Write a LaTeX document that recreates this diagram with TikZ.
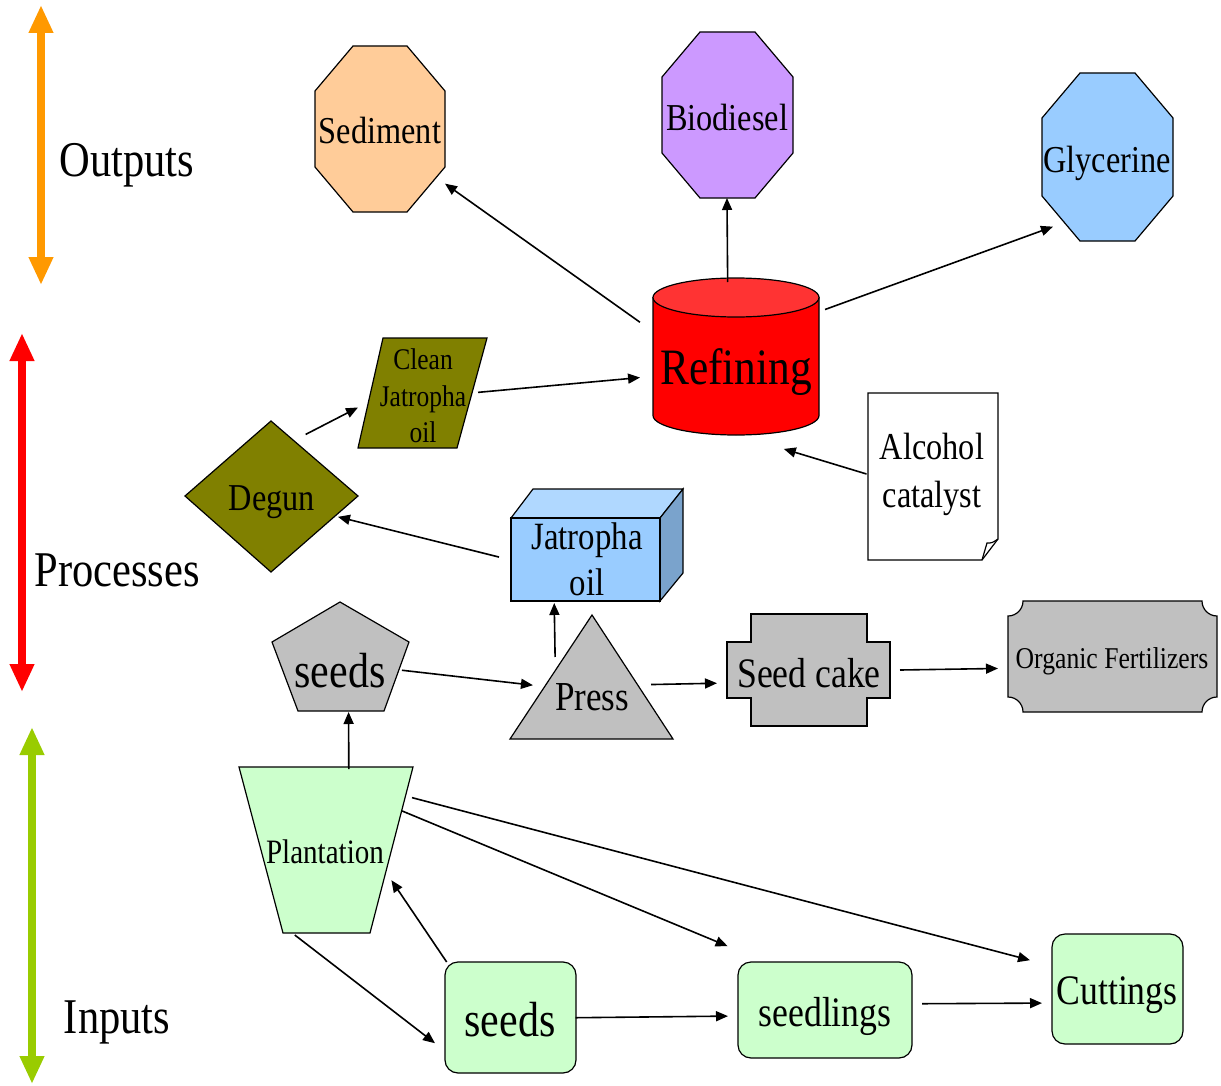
\documentclass[tikz,border=0pt]{standalone}
\usepackage{fontspec}
\setmainfont{Liberation Serif}[FakeStretch=0.85]
\usetikzlibrary{arrows.meta}

\definecolor{outorange}{HTML}{FF9900}
\definecolor{procred}{HTML}{FF0000}
\definecolor{inpgreen}{HTML}{99CC00}
\definecolor{sedicol}{HTML}{FFCC99}
\definecolor{biocol}{HTML}{CC99FF}
\definecolor{lblue}{HTML}{99CCFF}
\definecolor{lbluetop}{HTML}{B0D8FF}
\definecolor{lblueside}{HTML}{7AA3CC}
\definecolor{reftop}{HTML}{FF3333}
\definecolor{olivecol}{HTML}{808000}
\definecolor{greycol}{HTML}{C0C0C0}
\definecolor{lgreen}{HTML}{CCFFCC}

\tikzset{
  shp/.style={draw=black, line width=0.6pt, line join=miter},
  lbl/.style={inner sep=0pt, outer sep=0pt, align=center},
  arr/.style={-{Triangle[length=6pt,width=5pt]}, line width=0.8pt},
  axis/.style={{Triangle[length=14pt,width=11.5pt]}-{Triangle[length=14pt,width=11.5pt]}, line width=4pt},
}

\begin{document}
\begin{tikzpicture}[x=0.5pt,y=-0.5pt]
		%%%%% START %%%%%
		\useasboundingbox (0,0) rectangle (1221,1086);
		
		% side arrows
		\coordinate (outTop) at (41,5);
		\coordinate (outBot) at (41,285);
		\coordinate (procTop) at (22,333);
		\coordinate (procBot) at (22,692);
		\coordinate (inTop) at (32,727);
		\coordinate (inBot) at (32,1084);
		\draw[axis, draw=outorange, fill=outorange] (outTop) -- (outBot);
		\draw[axis, draw=procred, fill=procred] (procTop) -- (procBot);
		\draw[axis, draw=inpgreen, fill=inpgreen] (inTop) -- (inBot);
		\node[lbl, font=\fontsize{25}{30}\selectfont] (outputs) at (127,165) {Outputs};
		\node[lbl, font=\fontsize{25}{30}\selectfont] (processes) at (117,570) {Processes};
		\node[lbl, font=\fontsize{25}{30}\selectfont] (inputs) at (117,1022) {Inputs};
		
		% outputs
		\filldraw[shp, fill=sedicol] (353,46) -- (407,46) -- (445,91) -- (445,167) -- (407,212) -- (353,212) -- (315,167) -- (315,91) -- cycle;
		\filldraw[shp, fill=biocol] (700,32) -- (755,32) -- (793,77) -- (793,153) -- (755,198) -- (700,198) -- (662,153) -- (662,77) -- cycle;
		\filldraw[shp, fill=lblue] (1080,73) -- (1135,73) -- (1173,118) -- (1173,196) -- (1135,241) -- (1080,241) -- (1042,196) -- (1042,118) -- cycle;
		\node[lbl, minimum width=65pt, minimum height=83.5pt, font=\fontsize{19}{23}\selectfont] (sediment) at (380,131) {Sediment};
		\node[lbl, minimum width=65.5pt, minimum height=83pt, font=\fontsize{19}{23}\selectfont] (biodiesel) at (727,118) {Biodiesel};
		\node[lbl, minimum width=65.5pt, minimum height=84pt, font=\fontsize{19}{23}\selectfont] (glycerine) at (1107,163) {Glycerine};
		
		% processes
		\filldraw[shp, fill=procred] (653,297.5) -- (653,415.5) arc (180:0:83 and 19.5) -- (819,297.5) -- cycle;
		\filldraw[shp, fill=reftop] (736,297.5) ellipse [x radius=83, y radius=19.5];
		\node[lbl, minimum width=83pt, minimum height=78.5pt, font=\fontsize{25.5}{30}\selectfont] (refining) at (736,372) {Refining};
		
		\filldraw[shp, fill=olivecol] (383,338) -- (487,338) -- (457,448) -- (358,448) -- cycle;
		\node[lbl, minimum width=65pt, minimum height=55pt, font=\fontsize{15}{18.25}\selectfont] (clean) at (423,396) {Clean\\Jatropha\\oil};
		
		\filldraw[shp, fill=olivecol] (271,421) -- (358,496) -- (271,572) -- (185,496) -- cycle;
		\node[lbl, minimum width=86.5pt, minimum height=75.5pt, font=\fontsize{19}{23}\selectfont] (degun) at (272,502) {Degun};
		
		\filldraw[shp, fill=white] (868,393) -- (998,393) -- (998,539) -- (982,560) -- (868,560) -- cycle;
		\draw[shp] (982,560) -- (987,543) .. controls (992,543) .. (998,539);
		\node[lbl, minimum width=65.5pt, minimum height=84pt, font=\fontsize{19}{24}\selectfont] (alcohol) at (932,474) {Alcohol\\catalyst};
		
		\filldraw[shp, fill=lbluetop] (511,518) -- (533,489) -- (683,489) -- (660,518) -- cycle;
		\filldraw[shp, fill=lblueside] (660,518) -- (683,489) -- (683,573) -- (660,601) -- cycle;
		\filldraw[shp, fill=lblue] (511,518) rectangle (660,601);
		\node[lbl, minimum width=75pt, minimum height=42pt, font=\fontsize{19.3}{23}\selectfont] (jatoil) at (587,559) {Jatropha\\oil};
		
		\filldraw[shp, fill=greycol] (340,602) -- (409,642) -- (384,711) -- (298,711) -- (272,642) -- cycle;
		\node[lbl, minimum width=68.5pt, minimum height=54.5pt, font=\fontsize{24.7}{30}\selectfont] (seedsA) at (340,671) {seeds};
		
		\filldraw[shp, fill=greycol] (592,615) -- (673,739) -- (510,739) -- cycle;
		\node[lbl, minimum width=81.5pt, minimum height=62pt, font=\fontsize{20.6}{25}\selectfont] (press) at (592,697) {Press};
		
		\filldraw[shp, fill=greycol] (751,614) -- (867,614) -- (867,642) -- (890,642) -- (890,698) -- (867,698) -- (867,726) -- (751,726) -- (751,698) -- (727,698) -- (727,642) -- (751,642) -- cycle;
		\node[lbl, minimum width=81.5pt, minimum height=56pt, font=\fontsize{21}{25}\selectfont] (cake) at (809,673) {Seed cake};
		
		\filldraw[shp, fill=greycol] (1023,601) -- (1202,601) arc (180:90:15) -- (1217,697) arc (270:180:15) -- (1023,712) arc (0:-90:15) -- (1008,616) arc (90:0:15) -- cycle;
		\node[lbl, minimum width=104.5pt, minimum height=55.5pt, font=\fontsize{15.1}{18}\selectfont] (fert) at (1112,661) {Organic Fertilizers};
		
		% inputs
		\filldraw[shp, fill=lgreen] (239,767) -- (413,767) -- (370,933) -- (283,933) -- cycle;
		\node[lbl, minimum width=87pt, minimum height=83pt, font=\fontsize{17.1}{21}\selectfont] (plant) at (325,852) {Plantation};
		
		\filldraw[shp, fill=lgreen, rounded corners=6.5pt] (445,962) rectangle (576,1073);
		\filldraw[shp, fill=lgreen, rounded corners=6.5pt] (738,962) rectangle (912,1058);
		\filldraw[shp, fill=lgreen, rounded corners=6.5pt] (1052,934) rectangle (1183,1044);
		\node[lbl, minimum width=65.5pt, minimum height=55.5pt, font=\fontsize{24.7}{30}\selectfont] (seedsB) at (510,1020) {seeds};
		\node[lbl, minimum width=87pt, minimum height=48pt, font=\fontsize{21}{25}\selectfont] (seedlings) at (825,1016) {seedlings};
		\node[lbl, minimum width=65.5pt, minimum height=55pt, font=\fontsize{21}{25}\selectfont] (cuttings) at (1117,995) {Cuttings};
		
		% connectors
		\draw[arr, shorten <=8pt] (refining.154.4) -- (sediment.-39.7);
		\draw[arr, shorten <=5.75pt, shorten >=-1.5pt] (refining.96.5) -- (biodiesel.south);
		\draw[arr, shorten <=3.2pt, shorten >=-6.1pt] (refining.36.2) -- (glycerine.-134.3);
		\draw[arr, shorten <=-5pt, shorten >=6.5pt] (clean.4.3) -- (refining.183.4);
		\draw[arr, shorten <=-8.65pt] (degun.57.8) -- (clean.190.5);
		\draw[arr, shorten >=-2.7pt] (alcohol.180) -- (refining.-56.9);
		\draw[arr, shorten <=6.7pt, shorten >=-10.6pt] (jatoil.181.7) -- (degun.-13.7);
		\draw[arr, shorten <=-11pt, shorten >=1pt] (press.121.5) -- (jatoil.-128.2);
		\draw[arr, shorten <=-3.3pt, shorten >=-11.3pt] (seedsA.east) -- (press.170);
		\draw[arr, shorten <=-11.25pt, shorten >=5.25pt] (press.9.1) -- (cake.187.7);
		\draw[arr, shorten <=4.75pt, shorten >=4.75pt] (cake.2.1) -- (fert.184.9);
		\draw[arr, shorten >=-6.75pt] (plant.74.5) -- (seedsA.-81.6);
		\draw[arr, shorten <=-5.4pt, shorten >=28.5pt] (plant.23.5) -- (seedlings.133.4);
		\draw[arr, shorten >=11.1pt] (plant.32.8) -- (cuttings.156.6);
		\draw[arr, shorten >=6pt] (plant.-110.3) -- (seedsB.-155.2);
		\draw[arr, shorten <=1.5pt, shorten >=-18.4pt] (seedsB.138.8) -- (plant.-34.1);
		\draw[arr, shorten >=5pt] (seedsB.2.6) -- (seedlings.180.7);
		\draw[arr, shorten <=5pt, shorten >=4.75pt] (seedlings.8.5) -- (cuttings.187);
		
		%%%%% END %%%%%
\end{tikzpicture}
\end{document}
